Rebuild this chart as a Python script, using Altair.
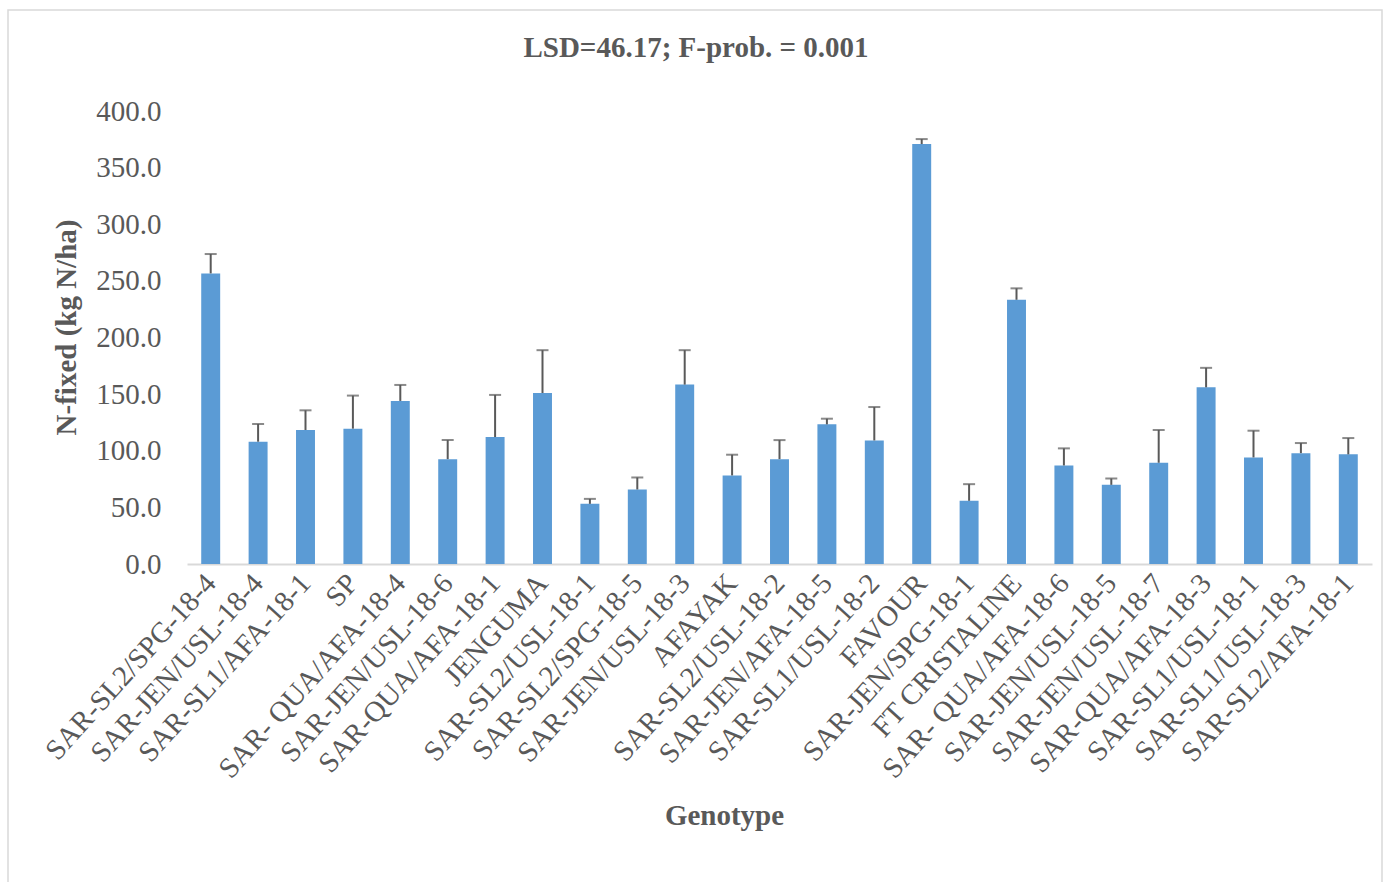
import altair as alt
import pandas as pd

genotypes = ["SAR-SL2/SPG-18-4", "SAR-JEN/USL-18-4", "SAR-SL1/AFA-18-1", "SP",
             "SAR- QUA/AFA-18-4", "SAR-JEN/USL-18-6", "SAR-QUA/AFA-18-1", "JENGUMA",
             "SAR-SL2/USL-18-1", "SAR-SL2/SPG-18-5", "SAR-JEN/USL-18-3", "AFAYAK",
             "SAR-SL2/USL-18-2", "SAR-JEN/AFA-18-5", "SAR-SL1/USL-18-2", "FAVOUR",
             "SAR-JEN/SPG-18-1", "FT CRISTALINE", "SAR- QUA/AFA-18-6", "SAR-JEN/USL-18-5",
             "SAR-JEN/USL-18-7", "SAR-QUA/AFA-18-3", "SAR-SL1/USL-18-1", "SAR-SL1/USL-18-3",
             "SAR-SL2/AFA-18-1"]
n_fixed = [256.6, 108.0, 118.3, 119.5, 144.0, 92.6, 112.1, 151.0, 53.1, 65.8, 158.4, 78.2,
           92.6, 123.3, 109.1, 370.8, 55.8, 233.3, 87.0, 69.9, 89.4, 156.0, 94.1, 97.9, 96.8]
std_err = [17.1, 15.6, 17.4, 29.2, 14.1, 16.8, 37.2, 37.8, 4.4, 10.6, 30.4, 18.3,
           16.8, 5.0, 29.5, 4.4, 14.7, 10.1, 15.1, 5.6, 28.9, 17.2, 23.6, 8.9, 14.4]
y_ticks = [0, 50, 100, 150, 200, 250, 300, 350, 400]
title_text = "LSD=46.17; F-prob. = 0.001"

df = pd.DataFrame({"Genotype": genotypes, "N": n_fixed, "err": std_err})
df["top"] = df["N"] + df["err"]

FONT = "Liberation Serif"
GRAY = "#595959"

x_enc = alt.X("Genotype:N", sort=genotypes,
              scale=alt.Scale(paddingInner=0.6, paddingOuter=0.3),
              axis=alt.Axis(title="Genotype", labelAngle=-48, labelAlign="right",
                            labelBaseline="middle", labelFontSize=29, labelFont=FONT,
                            labelColor=GRAY, labelPadding=14, labelOverlap=False, labelLimit=0,
                            ticks=False, domainColor="#D9D9D9", domainWidth=2,
                            titleFont=FONT, titleFontSize=29, titleFontWeight="bold",
                            titleColor=GRAY, titleX=537, titleY=237, titleBaseline="top",
                            titleAlign="center"))

y_scale = alt.Scale(domain=[0, 400], nice=False)

bars = alt.Chart(df).mark_bar(color="#5B9BD5").encode(
    x=x_enc,
    y=alt.Y("N:Q", scale=y_scale,
            axis=alt.Axis(title="N-fixed (kg N/ha)", values=y_ticks, format=".1f",
                          grid=False, domain=False, ticks=False, labelFont=FONT,
                          labelFontSize=29, labelColor=GRAY, labelPadding=26,
                          titleFont=FONT, titleFontSize=29, titleFontWeight="bold",
                          titleColor=GRAY, titlePadding=14, titleY=216)),
)

rules = alt.Chart(df).mark_rule(color=GRAY, strokeWidth=2).encode(
    x=alt.X("Genotype:N", sort=genotypes),
    y=alt.Y("N:Q", scale=y_scale),
    y2="top:Q",
)

caps = alt.Chart(df).mark_tick(color=GRAY, orient="horizontal", size=12, thickness=2).encode(
    x=alt.X("Genotype:N", sort=genotypes),
    y=alt.Y("top:Q", scale=y_scale),
)

border = alt.Chart(alt.Data(values=[{"a": 1}])).mark_rect(
    fill=None, stroke="#D9D9D9", strokeWidth=1.5, clip=False
).encode(
    x=alt.value(8 - 187), x2=alt.value(1382 - 187),
    y=alt.value(10 - 111), y2=alt.value(900 - 111),
)

title = alt.Chart(alt.Data(values=[{"t": title_text}])).mark_text(
    font=FONT, fontSize=29, fontWeight="bold", color=GRAY, align="center",
    baseline="alphabetic", clip=False
).encode(
    text="t:N", x=alt.value(696 - 187), y=alt.value(57 - 111),
)

chart = alt.layer(border, bars, rules, caps, title).properties(
    width=1185, height=453,
    autosize=alt.AutoSizeParams(type="none"),
    padding={"left": 187, "top": 111, "right": 17, "bottom": 318},
    background="white",
).configure_view(stroke=None)

chart.save("out.html", embed_options={"renderer": "svg", "actions": False})
